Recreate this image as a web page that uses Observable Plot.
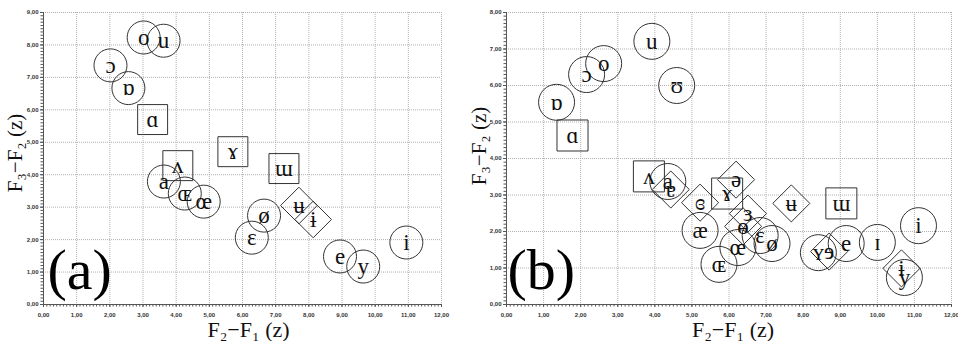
<!DOCTYPE html>
<html><head><meta charset="utf-8">
<script src="https://cdn.jsdelivr.net/npm/d3@7"></script>
<script src="https://cdn.jsdelivr.net/npm/@observablehq/plot@0.6"></script>
<style>
body{margin:0;background:#fff;}
#wrap{position:relative;display:flex;width:958px;height:341px;overflow:hidden;}
#wrap svg{flex:none;}
.ylab{position:absolute;font-family:'Liberation Serif','DejaVu Serif',serif;font-size:21px;color:#111;white-space:nowrap;transform:translate(-50%,-50%) rotate(-90deg);line-height:1;}
</style></head><body><div id="wrap"></div>
<script>
// ---- Panel (a) ----
const aSymbols = ["o","u","ɔ","ɒ","ɑ","ɤ","ʌ","a","ɶ","œ","ɯ","ø","ɛ","ʉ","ɨ","e","y","i"];
const aShapes  = ["circle","circle","circle","circle","square","square","square","circle","circle","circle","square","circle","circle","diamond","diamond","circle","circle","circle"];
const aX = [3.02,3.62,2.02,2.56,3.29,5.71,4.05,3.63,4.26,4.83,7.25,6.65,6.28,7.70,8.13,8.94,9.64,10.94];
const aY = [8.23,8.13,7.37,6.67,5.70,4.71,4.28,3.79,3.42,3.17,4.19,2.74,2.06,3.05,2.62,1.48,1.17,1.91];

// ---- Panel (b) ----
const bSymbols = ["u","o","ɔ","ʊ","ɒ","ɑ","ʌ","a","ɐ","ɞ","æ","ɶ","ɤ","ə","ɜ","ɵ","œ","ɛ","ø","ʉ","ɯ","ʏ","ɘ","e","ɪ","i","ɨ","y"];
const bShapes  = ["circle","circle","circle","circle","circle","square","square","circle","diamond","diamond","circle","circle","square","diamond","diamond","diamond","circle","circle","circle","diamond","square","circle","diamond","circle","circle","circle","diamond","circle"];
const bX = [3.92,2.62,2.16,4.59,1.35,1.78,3.84,4.35,4.43,5.22,5.22,5.73,5.95,6.19,6.51,6.38,6.24,6.84,7.16,7.68,9.03,8.41,8.70,9.16,10.00,11.11,10.65,10.73];
const bY = [7.21,6.60,6.30,6.00,5.54,4.63,3.51,3.37,3.15,2.79,2.03,1.10,3.04,3.42,2.49,2.14,1.56,1.89,1.67,2.77,2.77,1.42,1.45,1.67,1.70,2.16,0.99,0.74];

const xTicksA = d3.range(0, 13);
const yTicksA = d3.range(0, 10);
const xTicksB = d3.range(0, 13);
const yTicksB = d3.range(0, 9);
const xLabel = "F₂−F₁ (z)";
const yLabel = "F₃−F₂ (z)";

const fmt = d => d.toFixed(2).replace(".", ",");
const serif = "'Liberation Serif','DejaVu Serif',serif";
const sans = "'Liberation Sans',Arial,sans-serif";

function panel(cfg) {
  const data = cfg.syms.map((s, i) => ({s, x: cfg.xs[i], y: cfg.ys[i], shape: cfg.shapes[i]}));
  const xmax = cfg.xTicks[cfg.xTicks.length - 1], ymax = cfg.yTicks[cfg.yTicks.length - 1];
  const minorX = d3.range(0, xmax * 10 + 1).map(d => d / 10);
  const minorY = d3.range(0, ymax * 10 + 1).map(d => d / 10);
  const grid = {stroke: "#b0b0b0", strokeOpacity: 1, strokeDasharray: "1,1"};
  const shp = {x: "x", y: "y", stroke: "#333", strokeWidth: 1, fill: "none"};
  return Plot.plot({
    width: cfg.width, height: 341,
    marginLeft: cfg.ml, marginRight: cfg.mr, marginTop: 12, marginBottom: 37,
    x: {domain: [0, xmax]}, y: {domain: [0, ymax]},
    style: {background: "transparent", overflow: "visible"},
    marks: [
      Plot.gridX(cfg.xTicks, grid),
      Plot.gridY(cfg.yTicks, grid),
      Plot.axisX(minorX, {tickSize: 2.5, tickFormat: () => "", stroke: "#555", label: null}),
      Plot.axisY(minorY, {tickSize: 2.5, tickFormat: () => "", stroke: "#555", label: null}),
      Plot.axisX(cfg.xTicks, {tickSize: 3, tickPadding: 5, tickFormat: fmt, fontSize: 6, fontWeight: "bold", fontFamily: sans, fill: "#333", stroke: "#555", label: null}),
      Plot.axisY(cfg.yTicks, {tickSize: 3, tickPadding: 2, tickFormat: fmt, fontSize: 6, fontWeight: "bold", fontFamily: sans, fill: "#333", stroke: "#555", label: null}),
      Plot.ruleX([0], {stroke: "#555"}),
      Plot.ruleY([0], {stroke: "#555"}),
      Plot.dot(data.filter(d => d.shape === "circle"), {...shp, r: cfg.rC, symbol: "circle"}),
      Plot.dot(data.filter(d => d.shape === "square"), {...shp, r: cfg.rS, symbol: "square"}),
      Plot.dot(data.filter(d => d.shape === "diamond"), {...shp, r: cfg.rD, symbol: "diamond2"}),
      Plot.text(data, {x: "x", y: "y", text: "s", fontSize: cfg.fs, fontFamily: serif, fill: "#111"}),
      Plot.text([cfg.letter], {frameAnchor: "bottom-left", dx: cfg.letterDx, dy: -16, textAnchor: "start", lineAnchor: "bottom", fontSize: 58, fontFamily: serif, fill: "#000"}),
      Plot.text([xLabel], {frameAnchor: "bottom", dx: cfg.xlDx, dy: 32, lineAnchor: "bottom", fontSize: 22, fontFamily: serif, fill: "#111"})
    ]
  });
}

const wrap = document.getElementById("wrap");
wrap.appendChild(panel({syms: aSymbols, shapes: aShapes, xs: aX, ys: aY, xTicks: xTicksA, yTicks: yTicksA,
  width: 465, ml: 43, mr: 24, rC: 16.5, rS: 16.9, rD: 16.5, fs: 23, letter: "(a)", letterDx: 4, xlDx: 6}));
wrap.appendChild(panel({syms: bSymbols, shapes: bShapes, xs: bX, ys: bY, xTicks: xTicksB, yTicks: yTicksB,
  width: 493, ml: 41, mr: 7, rC: 18, rS: 17.5, rD: 16.7, fs: 23, letter: "(b)", letterDx: 1, xlDx: 4}));

// rotated y-axis titles (HTML, beside each panel)
[[15, 153], [479, 146]].forEach(([cx, cy]) => {
  const s = document.createElement("span");
  s.className = "ylab";
  s.textContent = yLabel;
  s.style.left = cx + "px";
  s.style.top = cy + "px";
  wrap.appendChild(s);
});
</script></body></html>
